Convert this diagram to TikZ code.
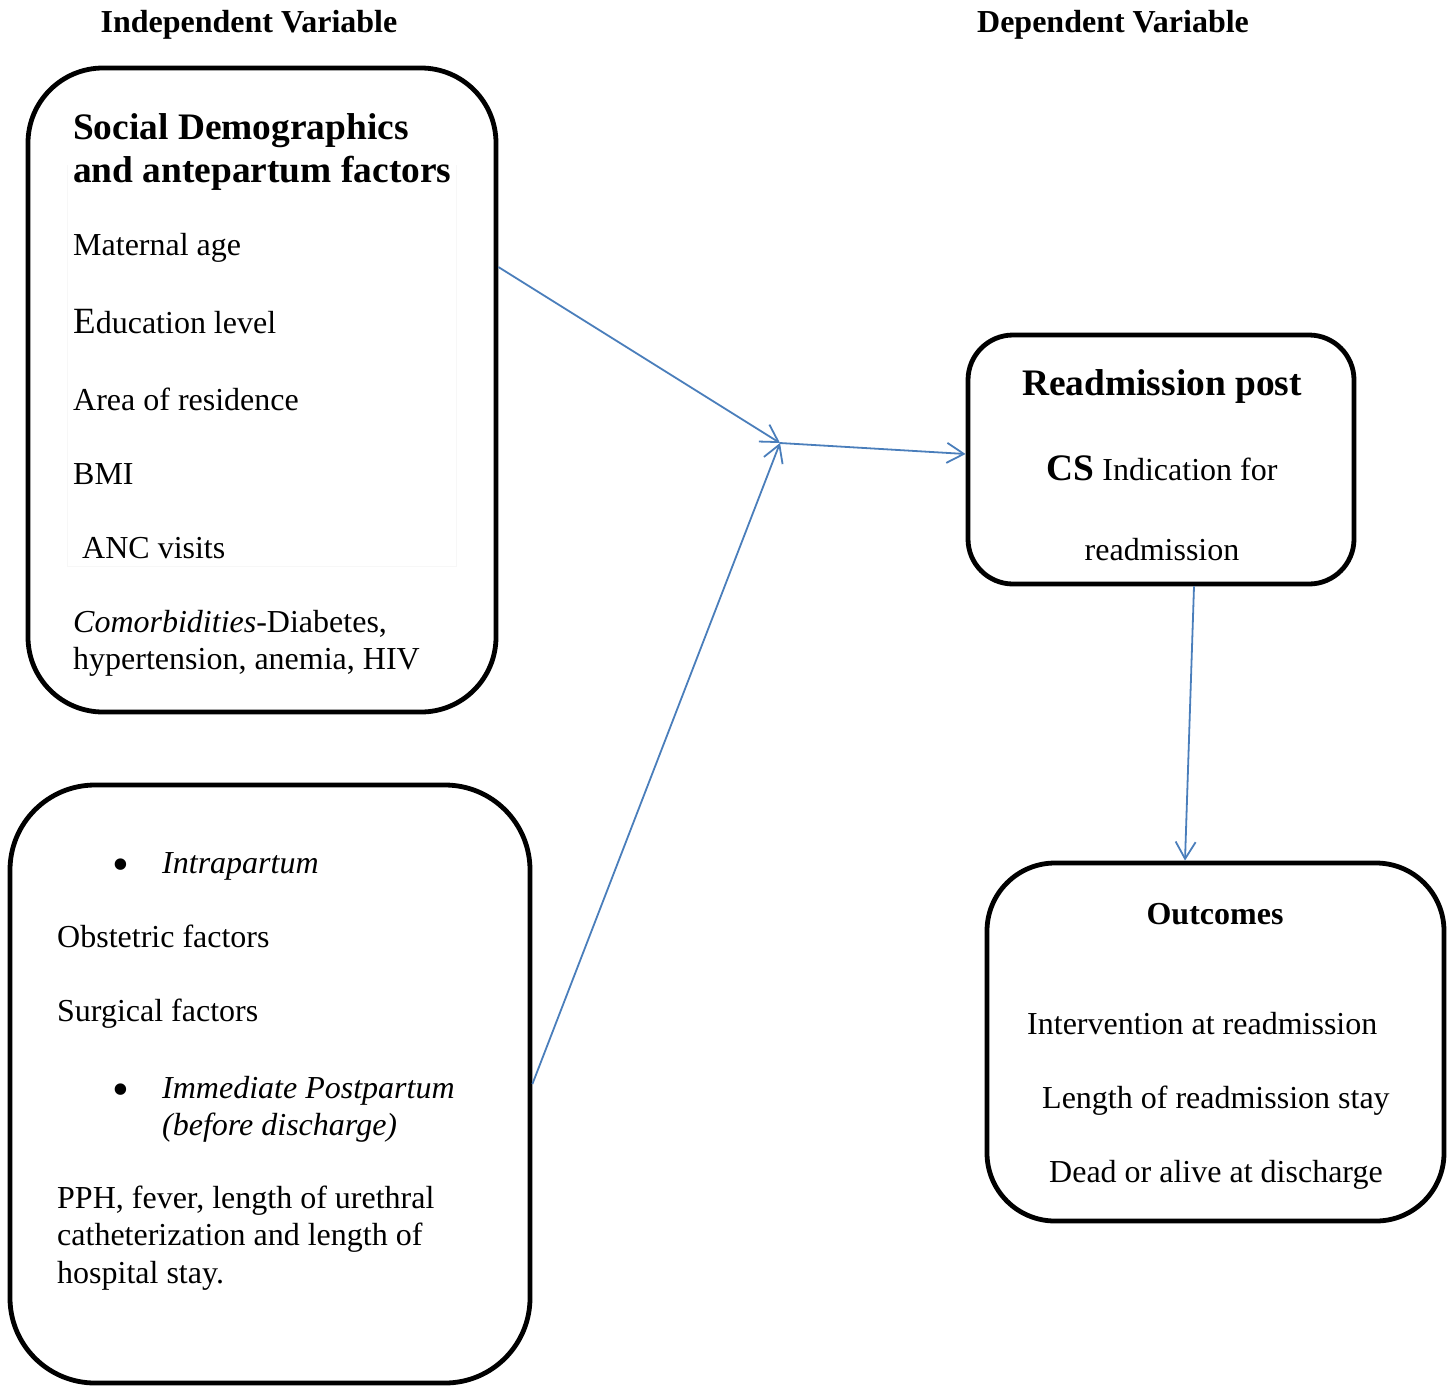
\documentclass[tikz,border=0pt]{standalone}
\usepackage{fontspec}
\setmainfont{Liberation Serif}
\usetikzlibrary{arrows.meta}
\definecolor{arrowblue}{RGB}{74,126,187}
\begin{document}
\begin{tikzpicture}[x=1pt,y=-1pt,
  box/.style={draw=black,line width=4.8pt,rounded corners=#1,inner sep=0pt},
  txt/.style={anchor=base west,inner sep=0pt,font=\fontsize{32}{37}\selectfont},
  ctxt/.style={anchor=base,inner sep=0pt,font=\fontsize{32}{37}\selectfont},
  ttl/.style={anchor=base,inner sep=0pt,font=\fontsize{32}{37}\selectfont\bfseries},
  head/.style={anchor=base west,inner sep=0pt,font=\fontsize{37.4}{43}\selectfont\bfseries},
  bull/.style={anchor=base,inner sep=0pt,font=\fontsize{48}{48}\selectfont},
  conn/.style={draw=arrowblue,line width=1.8pt,-{Straight Barb[length=17pt,width=20pt]}},
  faint/.style={draw=black!3,line width=1pt}
]
\useasboundingbox (0,0) rectangle (1450,1385);

% titles
\node[ttl] (tIV) at (249,32) {Independent Variable};
\node[ttl] (tDV) at (1113,32) {Dependent Variable};

% boxes
\node[box=75pt,minimum width=468pt,minimum height=644pt] (b1) at (262,390) {};
\node[box=85pt,minimum width=520pt,minimum height=598pt] (b2) at (270,1084) {};
\node[box=45pt,minimum width=386pt,minimum height=249pt] (b3) at (1161,459.5) {};
\node[box=68pt,minimum width=457pt,minimum height=358pt] (b4) at (1215.5,1042) {};

% faint frame in box 1
\draw[faint] (67,165) -- (67,566) -- (456,566) -- (456,165);

% box 1 text
\node[head] (h1) at (73,139) {Social Demographics};
\node[head] (h2) at (73,182) {and antepartum factors};
\node[txt] (m1) at (73,255) {Maternal age};
\node[txt] (m2) at (73,333) {{\fontsize{37}{40}\selectfont E}ducation level};
\node[txt] (m3) at (73,410) {Area of residence};
\node[txt] (m4) at (73,484) {BMI};
\node[txt] (m5) at (82,558) {ANC visits};
\node[txt] (m6) at (73,632) {\textit{Comorbidities}-Diabetes,};
\node[txt] (m7) at (73,669) {hypertension, anemia, HIV};

% box 2 text
\node[bull] (bu1) at (121,880) {•};
\node[txt] (i1) at (162,873) {\textit{Intrapartum}};
\node[txt] (i2) at (57,947) {Obstetric factors};
\node[txt] (i3) at (57,1021) {Surgical factors};
\node[bull] (bu2) at (121,1105) {•};
\node[txt] (i4) at (162,1098) {\textit{Immediate Postpartum}};
\node[txt] (i5) at (162,1135) {\textit{(before discharge)}};
\node[txt] (i6) at (57,1208) {PPH, fever, length of urethral};
\node[txt] (i7) at (57,1245) {catheterization and length of};
\node[txt] (i8) at (57,1283) {hospital stay.};

% box 3 text
\node[anchor=base,inner sep=0pt,font=\fontsize{37.4}{43}\selectfont\bfseries] (r1) at (1162,395) {Readmission post};
\node[ctxt] (r2) at (1162,480) {{\fontsize{37.4}{43}\selectfont\bfseries CS} Indication for};
\node[ctxt] (r3) at (1162,560) {readmission};

% box 4 text
\node[ttl] (o0) at (1215,924) {Outcomes};
\node[txt] (o1) at (1027,1034) {Intervention at readmission};
\node[txt] (o2) at (1042,1108) {Length of readmission stay};
\node[txt] (o3) at (1049,1182) {Dead or alive at discharge};

% connectors
\coordinate (j) at (780,443);
\draw[conn] (b1.east |- 0,267) -- (j);
\draw[conn] (b2.east) -- (j);
\draw[conn] (j) -- (b3.west |- 0,454);
\draw[conn] (1194,0 |- b3.south) -- (1185,0 |- b4.north);
\end{tikzpicture}
\end{document}
